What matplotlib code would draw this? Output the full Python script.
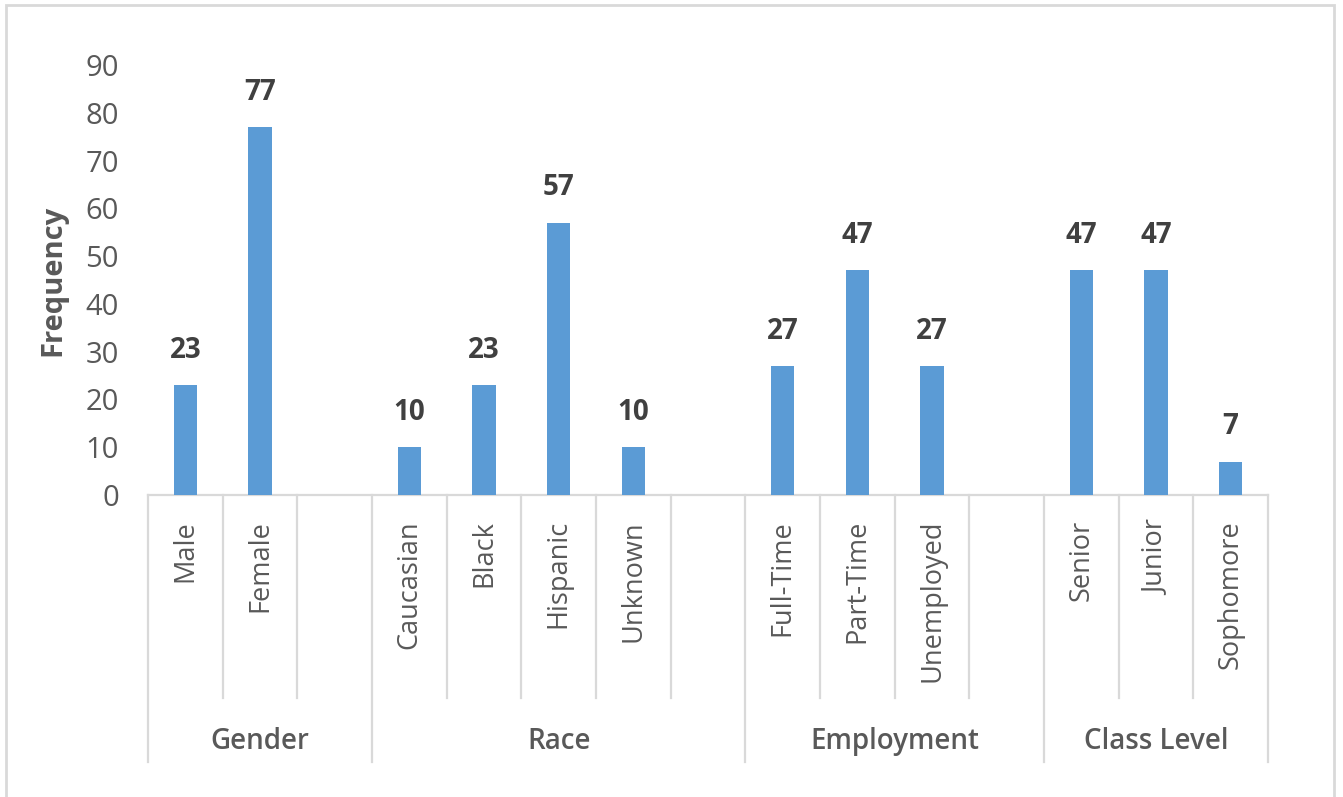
import matplotlib
matplotlib.use("Agg")
import matplotlib.pyplot as plt
from matplotlib.patches import Rectangle
from matplotlib.transforms import blended_transform_factory

BAR = "#5B9BD5"
LINE = "#D9D9D9"
TICK = "#595959"
VALUE = "#404040"

group_names = ["Gender", "Race", "Employment", "Class Level"]
gender_cats = ["Male", "Female"]
gender_vals = [23, 77]
race_cats = ["Caucasian", "Black", "Hispanic", "Unknown"]
race_vals = [10, 23, 57, 10]
employment_cats = ["Full-Time", "Part-Time", "Unemployed"]
employment_vals = [27, 47, 27]
class_cats = ["Senior", "Junior", "Sophomore"]
class_vals = [47, 47, 7]
y_ticks = [0, 10, 20, 30, 40, 50, 60, 70, 80, 90]

group_cats = [gender_cats, race_cats, employment_cats, class_cats]
group_vals = [gender_vals, race_vals, employment_vals, class_vals]

plt.rcParams["font.family"] = ["Open Sans", "DejaVu Sans"]

W, H = 1343, 797
fig = plt.figure(figsize=(W / 100, H / 100), dpi=100, facecolor="white")
ax = fig.add_axes([148 / W, 302 / H, 1120 / W, 430 / H])

# lay the categories out in slots, with one empty slot after every group but the last
xs, vals, labels = [], [], []
inner_edges, group_edges, group_centers = [], [-0.5], []
slot = 0
for gi, (cats, vv) in enumerate(zip(group_cats, group_vals)):
    start = slot
    for c, v in zip(cats, vv):
        xs.append(slot)
        vals.append(v)
        labels.append(c)
        slot += 1
    if gi < len(group_cats) - 1:
        slot += 1
    for k in range(start + 1, slot):
        inner_edges.append(k - 0.5)
    group_edges.append(slot - 0.5)
    group_centers.append((start + slot - 1) / 2)

bars = ax.bar(xs, vals, width=0.31, color=BAR, zorder=3)
for b, v in zip(bars, vals):
    ax.annotate(f"{v}", (b.get_x() + b.get_width() / 2, v), xytext=(0, 25),
                textcoords="offset points", ha="center", va="center",
                fontsize=20, fontweight="bold", color=VALUE)

ax.set_xlim(-0.5, slot - 0.5)
ax.set_ylim(0, 90)
ax.set_yticks(y_ticks)
ax.set_xticks([])
ax.tick_params(axis="y", length=0, pad=21, labelsize=21, labelcolor=TICK)
for side in ("top", "right", "left"):
    ax.spines[side].set_visible(False)
ax.spines["bottom"].set_color(LINE)
ax.spines["bottom"].set_linewidth(1.6)

ax.set_ylabel("Frequency", fontsize=21, fontweight="bold", color=TICK, va="center")
ax.yaxis.set_label_coords(-0.085, 0.5)

# multi-level category axis
tr = blended_transform_factory(ax.transData, ax.transAxes)
for x in inner_edges:
    ax.plot([x, x], [0, -0.472], transform=tr, color=LINE, lw=1.6, clip_on=False)
for x in group_edges:
    ax.plot([x, x], [0, -0.621], transform=tr, color=LINE, lw=1.6, clip_on=False)
for x, lab in zip(xs, labels):
    ax.text(x, -0.058, lab, transform=tr, rotation=90, ha="center", va="top",
            fontsize=19.5, fontweight="medium", color=TICK)
for x, name in zip(group_centers, group_names):
    ax.text(x, -0.574, name, transform=tr, ha="center", va="center",
            fontsize=20, fontweight="semibold", color=TICK)

# chart border
fig.patches.append(Rectangle((6 / W, -0.05), 1328 / W, (H - 5) / H + 0.05,
                             transform=fig.transFigure, fill=False,
                             edgecolor=LINE, lw=2))

fig.savefig("out.png", dpi=100, facecolor="white")
